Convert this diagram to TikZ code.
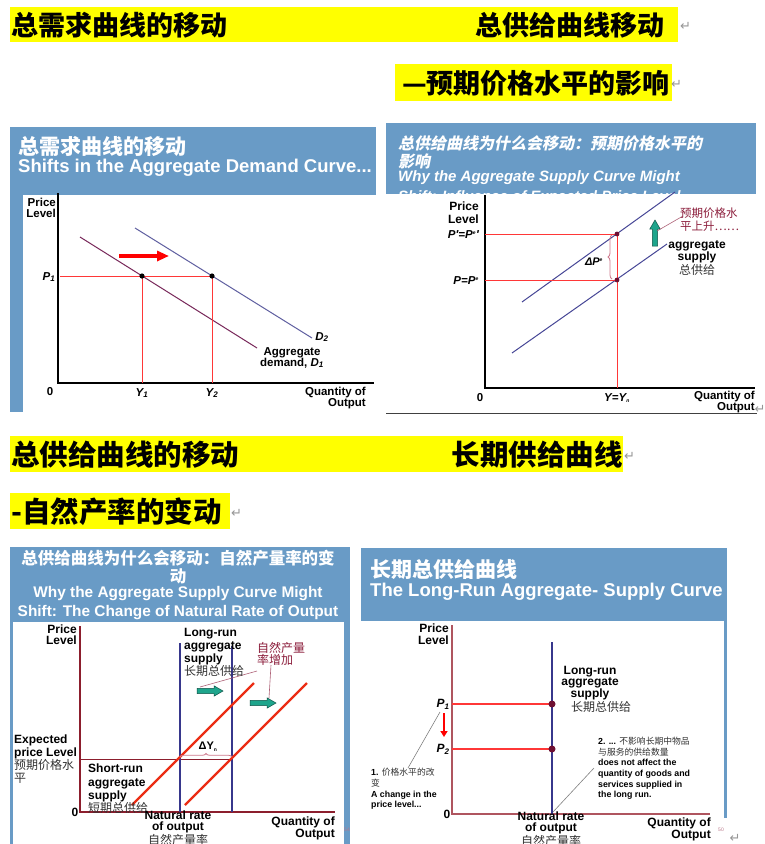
\documentclass[tikz,border=0pt]{standalone}
\usepackage{fontspec}
\setmainfont{Liberation Sans}
\newfontfamily\cjk{Noto Sans CJK SC}
\newfontfamily\cjki{Noto Sans CJK SC}[FakeSlant=0.2]
\newfontfamily\symf{DejaVu Sans}
\usetikzlibrary{arrows.meta,decorations.pathreplacing}
\definecolor{ylw}{RGB}{255,255,0}
\definecolor{hdr}{RGB}{105,155,198}
\definecolor{redl}{RGB}{255,55,55}
\definecolor{dOne}{RGB}{120,40,90}
\definecolor{dTwo}{RGB}{95,95,160}
\definecolor{asl}{RGB}{70,70,150}
\definecolor{tealc}{RGB}{30,165,140}
\definecolor{marn}{RGB}{140,30,60}
\definecolor{axr}{RGB}{140,30,45}
\definecolor{lras}{RGB}{55,55,140}
\definecolor{srasr}{RGB}{235,45,20}
\definecolor{axrf}{RGB}{175,85,95}
\definecolor{dotc}{RGB}{110,15,50}
\definecolor{retc}{RGB}{150,150,150}
\definecolor{brc}{RGB}{205,120,140}
\definecolor{zhg}{RGB}{50,50,50}
\tikzset{
  ttl/.style={inner sep=0pt,text=black,font=\cjk\bfseries\fontsize{27}{29}\selectfont},
  ttlb/.style={inner sep=0pt,text=black,font=\cjk\bfseries\fontsize{28.5}{30}\selectfont},
  retm/.style={inner sep=0pt,text=retc,font=\symf\fontsize{13}{13}\selectfont},
  hzh/.style={inner sep=0pt,text=white,font=\cjk\bfseries\fontsize{21}{22}\selectfont},
  hen/.style={inner sep=0pt,text=white,font=\bfseries\fontsize{18.5}{20}\selectfont},
  hzhi/.style={inner sep=0pt,text=white,font=\cjki\bfseries\fontsize{16}{17}\selectfont},
  heni/.style={inner sep=0pt,text=white,font=\bfseries\itshape\fontsize{15}{16}\selectfont},
  lb/.style={inner sep=0pt,font=\bfseries\fontsize{11.5}{11}\selectfont},
  lbi/.style={inner sep=0pt,font=\bfseries\itshape\fontsize{11.5}{11}\selectfont},
  zh/.style={inner sep=0pt,text=zhg,font=\cjk\fontsize{12}{13}\selectfont},
  axk/.style={line width=1.3pt,black},
  redline/.style={redl,line width=1pt},
  brace/.style={decorate,decoration={brace,amplitude=4pt},brc,line width=0.8pt},
  leader/.style={line width=0.6pt},
  tealarr/.pic={\filldraw[fill=tealc,draw=tealc!50!black,line width=0.5pt]
     (0,-2.6) -- (17,-2.6) -- (17,-5.2) -- (26,0) -- (17,5.2) -- (17,2.6) -- (0,2.6) -- cycle;},
}
\begin{document}
\begin{tikzpicture}[x=1pt,y=-1pt]
\useasboundingbox (0,0) rectangle (765,844);
\clip (0,0) rectangle (765,844);
\fill[white] (0,0) rectangle (765,844);
% ---------------- yellow titles ----------------
\fill[ylw] (10,7) rectangle (678,42);
\node[ttl,anchor=west] (t1) at (11,25) {总需求曲线的移动};
\node[ttl,anchor=east] (t2) at (665,25) {总供给曲线移动};
\node[retm,anchor=west] (r1) at (680,26) {↵};
\fill[ylw] (395,64) rectangle (672,101);
\node[ttl,anchor=east] (t3) at (670,83) {—预期价格水平的影响};
\node[retm,anchor=west] (r2) at (671,84) {↵};
\fill[ylw] (10,436) rectangle (623,472);
\node[ttlb,anchor=west] (t4) at (11,455) {总供给曲线的移动};
\node[ttlb,anchor=east] (t5) at (623,455) {长期供给曲线};
\node[retm,anchor=west] (r3) at (624,456) {↵};
\fill[ylw] (10,493) rectangle (230,529);
\node[ttlb,anchor=west] (t6) at (11,512) {-自然产率的变动};
\node[retm,anchor=west] (r4) at (231,513) {↵};
% ---------------- panel 1 ----------------
\fill[hdr] (10,127) rectangle (376,195);
\fill[hdr] (10,195) rectangle (23,412);
\begin{scope}
\clip (10,127) rectangle (376,195);
\node[hzh,anchor=west] (h1a) at (18,146) {总需求曲线的移动};
\node[hen,anchor=west] (h1b) at (18,168) {Shifts in the Aggregate Demand Curve...};
\end{scope}
\coordinate (a1t) at (58,193);
\coordinate (a1o) at (58,383);
\coordinate (a1r) at (374,383);
\draw[axk] (a1t) -- (a1o) -- (a1r);
\coordinate (d1s) at (80,237); \coordinate (d1e) at (257,348);
\coordinate (d2s) at (135,228); \coordinate (d2e) at (312,338);
\draw[dOne,line width=1pt] (d1s) -- (d1e);
\draw[dTwo,line width=1pt] (d2s) -- (d2e);
\coordinate (p1l) at (60,276);
\coordinate (e1) at (142,276); \coordinate (e2) at (212,276);
\coordinate (y1b) at (142,383); \coordinate (y2b) at (212,383);
\draw[redline] (p1l) -- (e2);
\draw[redline] (e1) -- (y1b);
\draw[redline] (e2) -- (y2b);
\fill[black] (e1) circle (2.6);
\fill[black] (e2) circle (2.6);
\coordinate (ra1) at (119,256); \coordinate (ra2) at (169,256);
\draw[red,line width=3.5pt,-{Triangle[length=12pt,width=10pt]}] (ra1) -- (ra2);
\node[lb,align=right,anchor=east] (pl1) at (56,207.5) {Price\\Level};
\node[lb] (o1) at (50,392) {0};
\node[lbi] (lp1) at (49,277) {P\textsubscript{1}};
\node[lbi] (ly1) at (142,393) {Y\textsubscript{1}};
\node[lbi] (ly2) at (212,393) {Y\textsubscript{2}};
\node[lbi] (ld2) at (322,337) {D\textsubscript{2}};
\node[lb,align=center] (lad) at (292,357.5) {Aggregate\\demand, \textit{D\textsubscript{1}}};
\node[lb,align=right,anchor=east] (lq1) at (366,398) {Quantity of\\Output};
% ---------------- panel 2 ----------------
\fill[hdr] (386,123) rectangle (756,194);
\begin{scope}
\clip (386,123) rectangle (756,194);
\node[hzhi,anchor=west] (h2a) at (398,143) {总供给曲线为什么会移动：预期价格水平的};
\node[hzhi,anchor=west] (h2b) at (398,161) {影响};
\node[heni,anchor=west] (h2c) at (398,178) {Why the Aggregate Supply Curve Might};
\node[heni,anchor=base west,text height=0pt,text depth=0pt] (h2d) at (398,201) {Shift: Influence of Expected Price Level};
\end{scope}
\draw[black!75,line width=0.8pt] (386,413) -- (757,413);
\coordinate (a2t) at (485,195);
\coordinate (a2o) at (485,388);
\coordinate (a2r) at (755,388);
\draw[axk] (a2t) -- (a2o) -- (a2r);
\coordinate (s1s) at (512,353); \coordinate (s1e) at (667,244);
\coordinate (s2s) at (522,302); \coordinate (s2e) at (675,192);
\draw[asl,line width=1pt] (s1s) -- (s1e);
\draw[asl,line width=1pt] (s2s) -- (s2e);
\coordinate (pp) at (485,234); \coordinate (pe) at (485,280);
\coordinate (q2) at (617,234); \coordinate (q1) at (617,280);
\coordinate (qb) at (617,388);
\draw[redline] (pp) -- (q2);
\draw[redline] (pe) -- (q1);
\draw[redline] (q2) -- (qb);
\fill[dotc] (q2) circle (2.4);
\fill[dotc] (q1) circle (2.4);
\coordinate (bra) at (612,279); \coordinate (brb) at (612,235);
\draw[brace] (bra) -- (brb);
\pic[rotate=90] (ta1) at (655,246) {tealarr};
\coordinate (ld1) at (683,216); \coordinate (ld1b) at (657,231);
\draw[marn!70,leader] (ld1) -- (ld1b);
\node[lb,align=right,anchor=east,font=\bfseries\fontsize{12}{12.5}\selectfont] (pl2) at (479,212.5) {Price\\Level};
\node[lbi,anchor=east] (lpp) at (479,235) {P′=P\textsuperscript{\tiny e}′};
\node[lbi,anchor=east] (lpe) at (479,281) {P=P\textsuperscript{\tiny e}};
\node[lb] (o2) at (480,398) {0};
\node[lbi] (lyn) at (617,398) {Y=Y\textsubscript{\tiny n}};
\node[lb,align=right,anchor=east,font=\bfseries\fontsize{11.5}{9.5}\selectfont] (lq2) at (755,402) {Quantity of\\Output};
\node[lbi,font=\bfseries\itshape\fontsize{11}{11}\selectfont] (ldp) at (594,262) {ΔP\textsuperscript{\tiny e}};
\node[zh,anchor=west,text=marn,font=\cjk\fontsize{11.5}{13}\selectfont,align=left] (lexp) at (680,219.5) {预期价格水\\平上升……};
\node[lb,align=center,font=\bfseries\fontsize{12}{10.5}\selectfont] (las) at (697,252) {aggregate\\supply};
\node[zh] (lzas) at (697,270) {总供给};
\node[retm] (r5) at (760,409) {↵};
% ---------------- panel 3 ----------------
\fill[hdr] (10,547) rectangle (350,622);
\fill[hdr] (10,622) rectangle (13,844);
\fill[hdr] (344,622) rectangle (350,844);
\node[hzh,font=\cjk\bfseries\fontsize{16.5}{17}\selectfont] (h3a) at (178,558) {总供给曲线为什么会移动：自然产量率的变};
\node[hzh,font=\cjk\bfseries\fontsize{16.5}{17}\selectfont] (h3b) at (178,576) {动};
\node[hen,font=\bfseries\fontsize{15.4}{16}\selectfont] (h3c) at (178,594) {Why the Aggregate Supply Curve Might};
\node[hen,font=\bfseries\fontsize{15.4}{16}\selectfont] (h3d) at (178,613) {Shift: The Change of Natural Rate of Output};
\coordinate (a3t) at (80,626);
\coordinate (a3o) at (80,812);
\coordinate (a3r) at (335,812);
\draw[axr,line width=1.2pt] (a3t) -- (a3o) -- (a3r);
\coordinate (ex1) at (80,759); \coordinate (ex2) at (232,759);
\draw[axr,line width=0.9pt] (ex1) -- (ex2);
\coordinate (l1t) at (180,643); \coordinate (l1b) at (180,812);
\coordinate (l2t) at (232,646); \coordinate (l2b) at (232,812);
\draw[lras,line width=2pt] (l1t) -- (l1b);
\draw[lras,line width=2pt] (l2t) -- (l2b);
\coordinate (r1s) at (132,805); \coordinate (r1e) at (254,683);
\coordinate (r2s) at (185,805); \coordinate (r2e) at (307,683);
\draw[srasr,line width=2.2pt] (r1s) -- (r1e);
\draw[srasr,line width=2.2pt] (r2s) -- (r2e);
\coordinate (b3a) at (180,757); \coordinate (b3b) at (232,757);
\draw[brace,decoration={brace,amplitude=3.5pt}] (b3a) -- (b3b);
\node[lb,font=\bfseries\fontsize{11}{11}\selectfont] (ldy) at (208,747) {ΔY\textsubscript{\tiny n}};
\pic (ta2) at (197,691) {tealarr};
\pic (ta3) at (250,703) {tealarr};
\node[zh,anchor=west,text=marn,align=left,font=\cjk\fontsize{12}{12.5}\selectfont] (lnat) at (257,654) {自然产量\\率增加};
\coordinate (ld2a) at (257,671); \coordinate (ld2b) at (200,687);
\coordinate (ld3a) at (271,665); \coordinate (ld3b) at (269,698);
\draw[marn!70,leader] (ld2a) -- (ld2b);
\draw[marn!70,leader] (ld3a) -- (ld3b);
\node[lb,align=right,anchor=east,font=\bfseries\fontsize{12}{11}\selectfont] (pl3) at (77,634.5) {Price\\Level};
\node[lb,align=left,anchor=west,font=\bfseries\fontsize{12}{13}\selectfont] (llr) at (184,652.5) {Long-run\\aggregate\\supply\\{\cjk\mdseries\color{zhg}长期总供给}};
\node[lb,align=left,anchor=west,font=\bfseries\fontsize{12}{13}\selectfont] (lep) at (14,759.5) {Expected\\price Level\\{\cjk\mdseries\color{zhg}预期价格水}\\{\cjk\mdseries\color{zhg}平}};
\node[lb,align=left,anchor=west,font=\bfseries\fontsize{12}{13.3}\selectfont] (lsr) at (88,789) {Short-run\\aggregate\\supply\\{\cjk\mdseries\color{zhg}短期总供给}};
\node[lb,font=\bfseries\fontsize{12}{12}\selectfont] (o3) at (75,812) {0};
\node[lb,align=center,font=\bfseries\fontsize{12}{11}\selectfont] (lnr3) at (178,828) {Natural rate\\of output\\{\cjk\mdseries\color{zhg}自然产量率}};
\node[lb,align=right,anchor=east,font=\bfseries\fontsize{12}{10.5}\selectfont] (lq3) at (335,828.5) {Quantity of\\Output};
\node[inner sep=0pt,text=marn!60,font=\fontsize{5}{5}\selectfont] (pg3) at (347,830) {54};
% ---------------- panel 4 ----------------
\fill[hdr] (361,548) rectangle (727,621);
\fill[hdr] (724,621) rectangle (727,818);
\begin{scope}
\clip (361,548) rectangle (727,621);
\node[hzh,anchor=west] (h4a) at (370,569) {长期总供给曲线};
\node[hen,anchor=west] (h4b) at (370,592) {The Long-Run Aggregate- Supply Curve};
\end{scope}
\coordinate (a4t) at (452,625);
\coordinate (a4o) at (452,814);
\coordinate (a4r) at (710,814);
\draw[axrf,line width=1.8pt] (a4t) -- (a4o) -- (a4r);
\coordinate (l4t) at (552,642); \coordinate (l4b) at (552,814);
\draw[lras,line width=2pt] (l4t) -- (l4b);
\coordinate (p1a) at (452,704); \coordinate (p1b) at (552,704);
\coordinate (p2a) at (452,749); \coordinate (p2b) at (552,749);
\draw[redl,line width=1.3pt] (p1a) -- (p1b);
\draw[redl,line width=1.3pt] (p2a) -- (p2b);
\fill[dotc] (p1b) circle (3.5);
\fill[dotc] (p2b) circle (3.5);
\coordinate (da1) at (444,713); \coordinate (da2) at (444,737);
\draw[red,line width=2.5pt,-{Triangle[length=6pt,width=7pt]}] (da1) -- (da2);
\coordinate (g1a) at (440,712); \coordinate (g1b) at (408,768);
\coordinate (g2a) at (594,768); \coordinate (g2b) at (553,812);
\draw[gray,leader] (g1a) -- (g1b);
\draw[gray,leader] (g2a) -- (g2b);
\node[lb,align=right,anchor=east,font=\bfseries\fontsize{12}{12}\selectfont] (pl4) at (449,634) {Price\\Level};
\node[lb,align=center,font=\bfseries\fontsize{12}{10}\selectfont] (llr4) at (590,683) {Long-run\\aggregate\\supply};
\node[zh] (lzl4) at (601,707) {长期总供给};
\node[lbi,font=\bfseries\itshape\fontsize{12}{12}\selectfont] (lP1) at (443,704) {P\textsubscript{1}};
\node[lbi,font=\bfseries\itshape\fontsize{12}{12}\selectfont] (lP2) at (443,749) {P\textsubscript{2}};
\node[lb,align=left,anchor=west,font=\bfseries\fontsize{8.8}{10.6}\selectfont] (n2) at (598,768.5) {2. ... {\cjk\mdseries\color{zhg}不影响长期中物品}\\{\cjk\mdseries\color{zhg}与服务的供给数量}\\does not affect the\\quantity of goods and\\services supplied in\\the long run.};
\node[lb,align=left,anchor=west,font=\bfseries\fontsize{8.8}{10.6}\selectfont] (n1) at (371,789) {1. {\cjk\mdseries\color{zhg}价格水平的改}\\{\cjk\mdseries\color{zhg}变}\\A change in the\\price level...};
\node[lb,font=\bfseries\fontsize{12}{12}\selectfont] (o4) at (447,814) {0};
\node[lb,align=center,font=\bfseries\fontsize{12}{11}\selectfont] (lnr4) at (551,829) {Natural rate\\of output\\{\cjk\mdseries\color{zhg}自然产量率}};
\node[lb,align=right,anchor=east,font=\bfseries\fontsize{12}{10}\selectfont] (lq4) at (711,829) {Quantity of\\Output};
\node[inner sep=0pt,text=marn!60,font=\fontsize{5}{5}\selectfont] (pg4) at (721,830) {50};
\node[retm] (r6) at (735,838) {↵};
\end{tikzpicture}
\end{document}
